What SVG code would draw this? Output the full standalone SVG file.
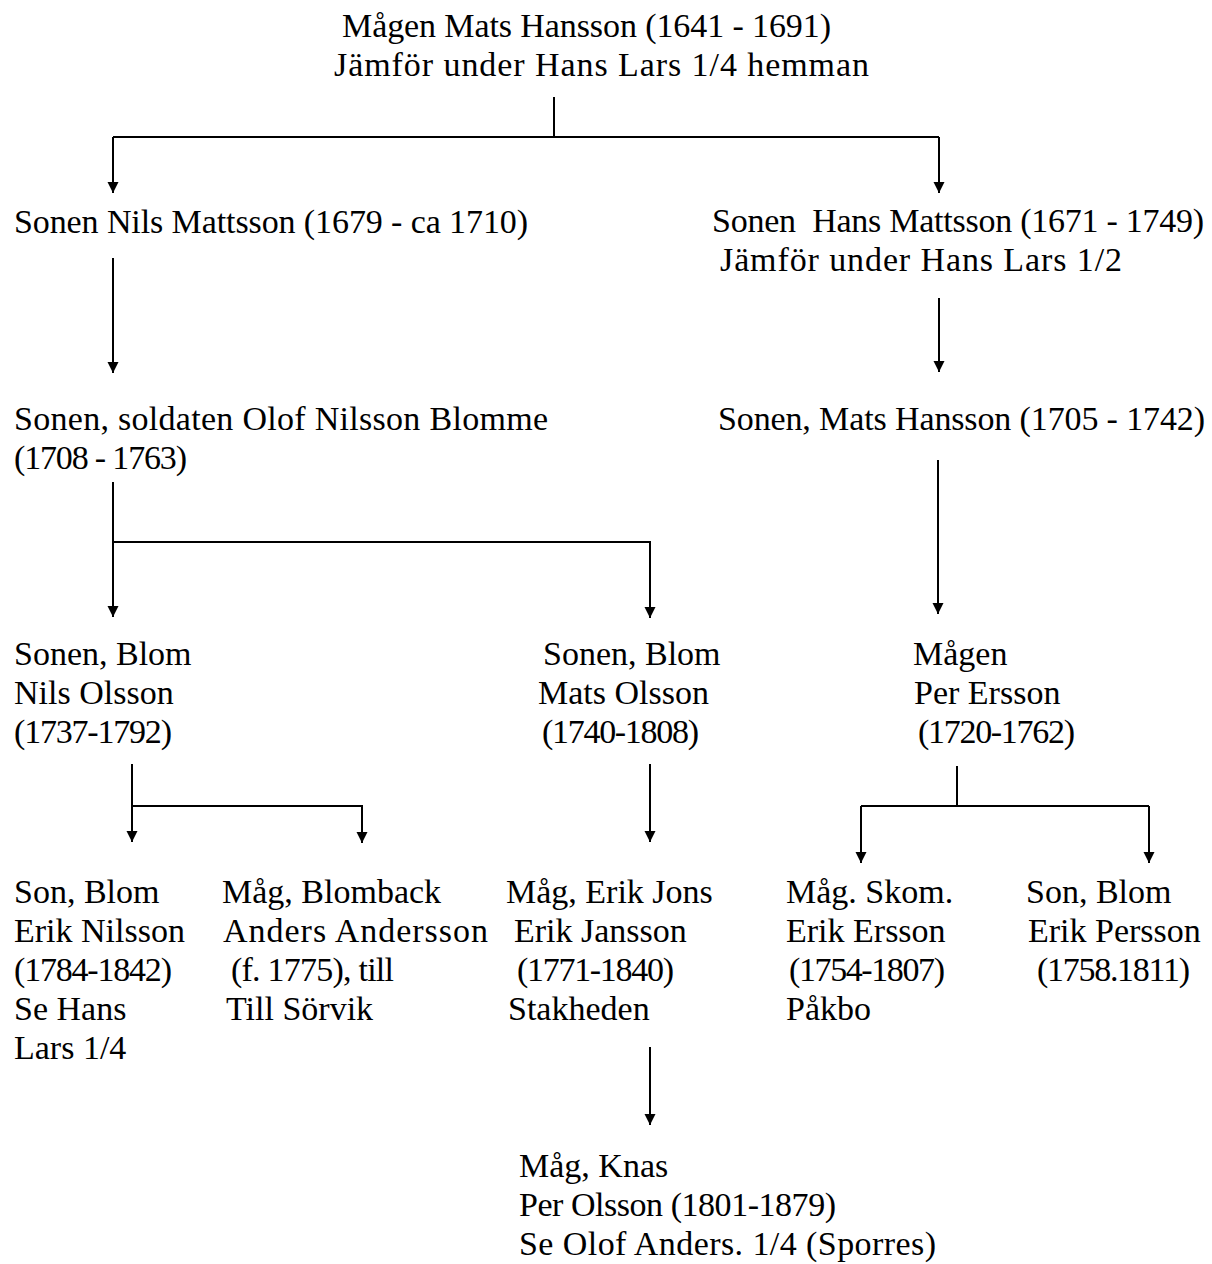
<svg xmlns="http://www.w3.org/2000/svg" width="1212" height="1264" viewBox="0 0 1212 1264">
<style>
  text { font-family: "Liberation Serif", "Times New Roman", serif; font-size: 34px; fill: #000; white-space: pre; }
  .c { fill: none; stroke: #000; stroke-width: 2; }
</style>
<defs>
  <marker id="ah" markerUnits="userSpaceOnUse" markerWidth="12" markerHeight="12" refX="11" refY="5.5" orient="auto">
    <path d="M0,0 L11,5.5 L0,11 z" fill="#000"/>
  </marker>
</defs>
<rect width="1212" height="1264" fill="#fff"/>
<g id="connectors">
  <path class="c" d="M554,97 V137"/>
  <path class="c" d="M113,137 H939"/>
  <path class="c" d="M113,137 V193" marker-end="url(#ah)"/>
  <path class="c" d="M939,137 V193" marker-end="url(#ah)"/>
  <path class="c" d="M113,258 V373" marker-end="url(#ah)"/>
  <path class="c" d="M939,298 V372" marker-end="url(#ah)"/>
  <path class="c" d="M113,482 V617" marker-end="url(#ah)"/>
  <path class="c" d="M113,542 H650 V618" marker-end="url(#ah)"/>
  <path class="c" d="M938,460 V614" marker-end="url(#ah)"/>
  <path class="c" d="M132,764 V842" marker-end="url(#ah)"/>
  <path class="c" d="M132,806 H362 V843" marker-end="url(#ah)"/>
  <path class="c" d="M650,764 V842" marker-end="url(#ah)"/>
  <path class="c" d="M957,766 V806"/>
  <path class="c" d="M861,806 H1149"/>
  <path class="c" d="M861,806 V863" marker-end="url(#ah)"/>
  <path class="c" d="M1149,806 V863" marker-end="url(#ah)"/>
  <path class="c" d="M650,1047 V1125" marker-end="url(#ah)"/>
</g>
<g id="n1">
  <text x="342" y="37" textLength="489">Mågen Mats Hansson (1641 - 1691)</text>
  <text x="334" y="76" textLength="535">Jämför under Hans Lars 1/4 hemman</text>
</g>
<g id="n2">
  <text x="14" y="233" textLength="514">Sonen Nils Mattsson (1679 - ca 1710)</text>
</g>
<g id="n3">
  <text x="712" y="232" textLength="492">Sonen  Hans Mattsson (1671 - 1749)</text>
  <text x="720" y="271" textLength="402">Jämför under Hans Lars 1/2</text>
</g>
<g id="n4">
  <text x="14" y="430" textLength="534">Sonen, soldaten Olof Nilsson Blomme</text>
  <text x="14" y="469" textLength="173">(1708 - 1763)</text>
</g>
<g id="n5">
  <text x="718" y="430" textLength="487">Sonen, Mats Hansson (1705 - 1742)</text>
</g>
<g id="n6">
  <text x="14" y="665">Sonen, Blom</text>
  <text x="14" y="704">Nils Olsson</text>
  <text x="14" y="743" textLength="158">(1737-1792)</text>
</g>
<g id="n7">
  <text x="543" y="665">Sonen, Blom</text>
  <text x="538" y="704">Mats Olsson</text>
  <text x="542" y="743" textLength="157">(1740-1808)</text>
</g>
<g id="n8">
  <text x="913" y="665">Mågen</text>
  <text x="914" y="704">Per Ersson</text>
  <text x="918" y="743" textLength="157">(1720-1762)</text>
</g>
<g id="n9">
  <text x="14" y="903">Son, Blom</text>
  <text x="14" y="942">Erik Nilsson</text>
  <text x="14" y="981" textLength="158">(1784-1842)</text>
  <text x="14" y="1020">Se Hans</text>
  <text x="14" y="1059">Lars 1/4</text>
</g>
<g id="n10">
  <text x="222" y="903">Måg, Blomback</text>
  <text x="223" y="942" textLength="265">Anders Andersson</text>
  <text x="231" y="981" textLength="163">(f. 1775), till</text>
  <text x="226" y="1020">Till Sörvik</text>
</g>
<g id="n11">
  <text x="506" y="903">Måg, Erik Jons</text>
  <text x="514" y="942">Erik Jansson</text>
  <text x="517" y="981" textLength="157">(1771-1840)</text>
  <text x="508" y="1020">Stakheden</text>
</g>
<g id="n12">
  <text x="786" y="903">Måg. Skom.</text>
  <text x="786" y="942">Erik Ersson</text>
  <text x="789" y="981" textLength="156">(1754-1807)</text>
  <text x="786" y="1020">Påkbo</text>
</g>
<g id="n13">
  <text x="1026" y="903">Son, Blom</text>
  <text x="1028" y="942">Erik Persson</text>
  <text x="1037" y="981" textLength="153">(1758.1811)</text>
</g>
<g id="n14">
  <text x="519" y="1177">Måg, Knas</text>
  <text x="519" y="1216" textLength="317">Per Olsson (1801-1879)</text>
  <text x="519" y="1255" textLength="417">Se Olof Anders. 1/4 (Sporres)</text>
</g>
</svg>
